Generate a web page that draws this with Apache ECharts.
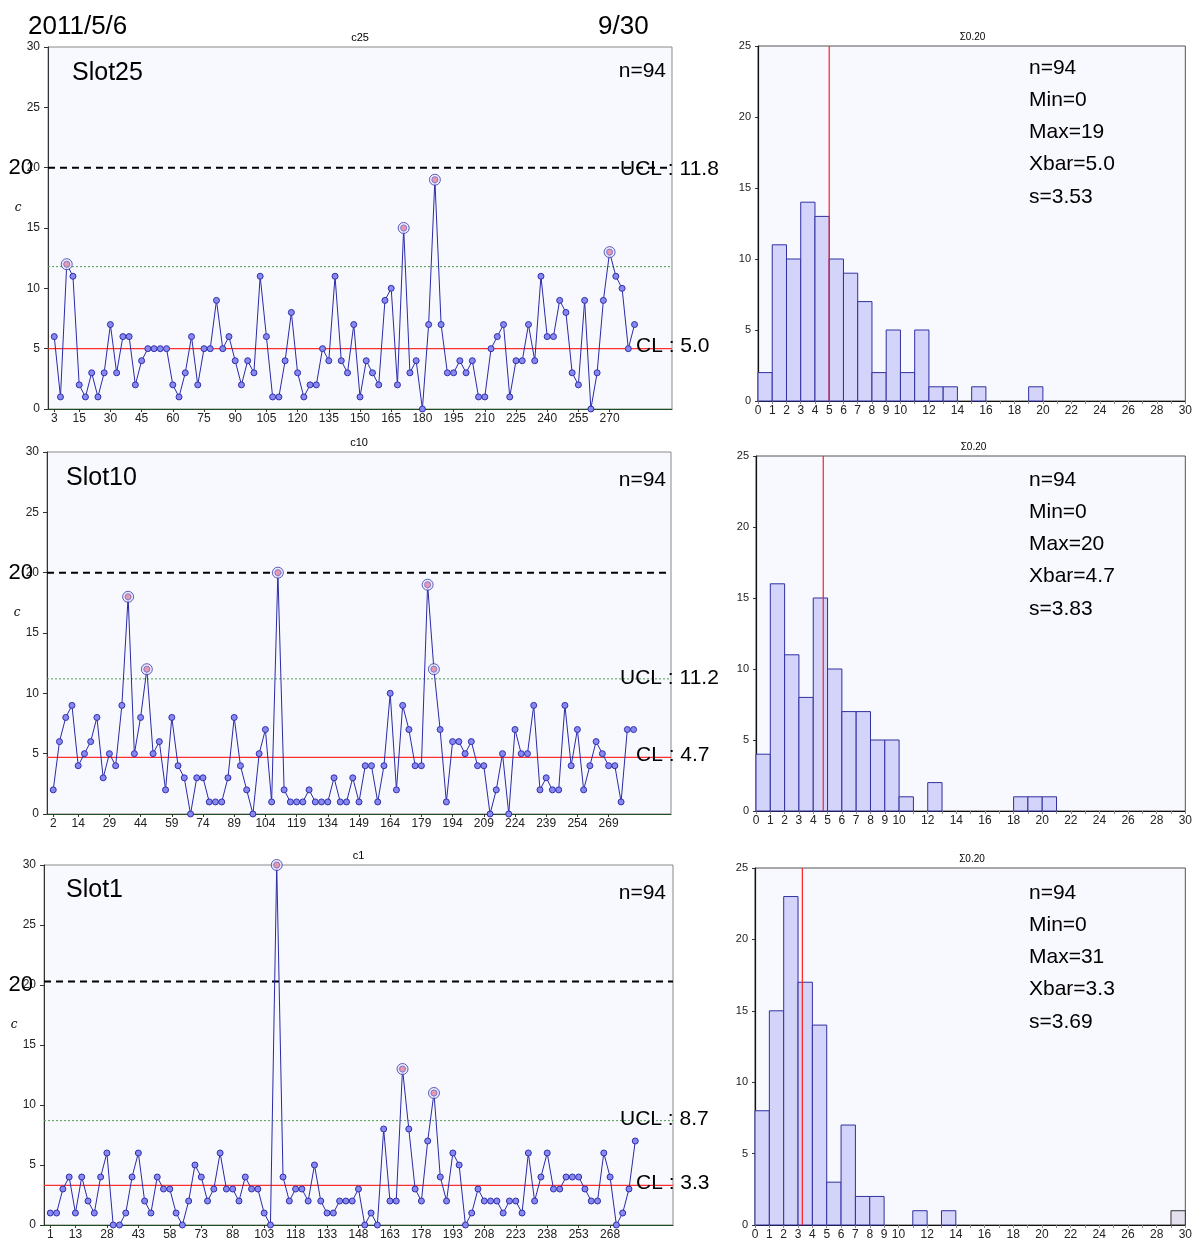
<!DOCTYPE html>
<html>
<head>
<meta charset="utf-8">
<script src="https://cdn.jsdelivr.net/npm/echarts@6/dist/echarts.min.js"></script>
<style>
html,body{margin:0;padding:0;background:#fff;}
#main{width:1195px;height:1241px;}
</style>
</head>
<body>
<div id="main"></div>
<script>
// ---------- data ----------
const dateLeft = '2011/5/6';
const dateRight = '9/30';
const slotNames = ['Slot25', 'Slot10', 'Slot1'];
const chartTitles = ['c25', 'c10', 'c1'];
const histTitles = ['Σ0.20', 'Σ0.20', 'Σ0.20'];
const firstX = [3, 2, 1];            // x value of the first sample
const xStep = 3;
const slot25 = [6,1,12,11,2,1,3,1,3,7, 3,6,6,2,4,5,5,5,5,2, 1,3,6,2,5,5,9,5,6,4,
                2,4,3,11,6,1,1,4,8,3, 1,2,2,5,4,11,4,3,7,1, 4,3,2,9,10,2,15,3,4,0,
                7,19,7,3,3,4,3,4,1,1, 5,6,7,1,4,4,7,4,11,6, 6,9,8,3,2,9,0,3,9,13,
                11,10,5,7];
const slot10 = [2,6,8,9,4,5,6,8,3,5, 4,9,18,5,8,12,5,6,2,8, 4,3,0,3,3,1,1,1,3,8,
                4,2,0,5,7,1,20,2,1,1, 1,2,1,1,1,3,1,1,3,1, 4,4,1,4,10,2,9,7,4,4,
                19,12,7,1,6,6,5,6,4,4, 0,2,5,0,7,5,5,9,2,3, 2,2,9,4,7,2,4,6,5,4,
                4,1,7,7];
const slot1  = [1,1,3,4,1,4,2,1,4,6, 0,0,1,4,6,2,1,4,3,3, 1,0,2,5,4,2,3,6,3,3,
                2,4,3,3,1,0,30,4,2,3, 3,2,5,2,1,1,2,2,2,3, 0,1,0,8,2,2,13,8,3,2,
                7,11,4,2,6,5,0,1,3,2, 2,2,1,2,2,1,6,2,4,6, 3,3,4,4,4,3,2,2,6,4,
                0,1,3,7];
const seriesValues = [slot25, slot10, slot1];
const clValues  = [5.0, 4.7, 3.3];
const uclValues = [11.8, 11.2, 8.7];
const limitValues = [20, 20, 20.3];
const limitLabel = '20';
const sampleCount = [94, 94, 94];
const yTicksControl = {min: 0, max: 30, interval: 5};

// histogram bin counts (bins [k, k+1), k = 0..29)
const hist25 = [2,11,10,14,13,10,9,7,2,5,2,5,1,1,0,1,0,0,0,1,0,0,0,0,0,0,0,0,0,0];
const hist10 = [4,16,11,8,15,10,7,7,5,5,1,0,2,0,0,0,0,0,1,1,1,0,0,0,0,0,0,0,0,0];
const hist1  = [8,15,23,17,14,3,7,2,2,0,0,1,0,1,0,0,0,0,0,0,0,0,0,0,0,0,0,0,0,0];
const histOverflowBin = 29;
const histOverflow = [0, 0, 1];
const histValues = [hist25, hist10, hist1];
const histMin = [0, 0, 0];
const histMax = [19, 20, 31];
const histXbar = [5.0, 4.7, 3.3];
const histS = [3.53, 3.83, 3.69];
const yTicksHist = {min: 0, max: 25, interval: 5};
const xTicksHist = {min: 0, max: 30, interval: 1};

// ---------- layout ----------
const FONT = '"Liberation Sans", Arial, sans-serif';
const ctrlGrids = [
  {left: 48, top: 47, width: 624, height: 362},
  {left: 47, top: 452, width: 624, height: 362},
  {left: 44, top: 865, width: 629, height: 365}
];
const histGrids = [
  {left: 758, top: 46, width: 429, height: 355},
  {left: 756, top: 456, width: 435, height: 355},
  {left: 755, top: 868, width: 434, height: 359}
];

const grids = [], xAxes = [], yAxes = [], series = [];

function hLine(k, cats, value, color, width, type, z) {
  return {
    type: 'line', xAxisIndex: k, yAxisIndex: k,
    data: [[cats[0], value], [cats[cats.length - 1], value]],
    symbol: 'none', silent: true, animation: false, z: z,
    lineStyle: {color: color, width: width, type: type}
  };
}

ctrlGrids.forEach((g, k) => {
  grids.push(Object.assign({show: true, backgroundColor: '#f8f8ff', borderColor: '#8a8a8a', borderWidth: 1, containLabel: false}, g));
  const cats = [];
  for (let i = 0; i <= 100; i++) cats.push(String(firstX[k] - xStep + xStep * i));
  const n = seriesValues[k].length;
  const showIdx = (index) => index === 1 || (index > 0 && index % 5 === 0 && index <= n);
  xAxes.push({
    type: 'category', gridIndex: k, data: cats, boundaryGap: false,
    axisLine: {lineStyle: {color: '#1f4f1f', width: 1.2}},
    axisTick: {interval: (i) => showIdx(i), length: 3, lineStyle: {color: '#333'}},
    axisLabel: {interval: (i) => showIdx(i), fontSize: 12, color: '#222', fontFamily: FONT, margin: 4},
    splitLine: {show: false}
  });
  yAxes.push({
    type: 'value', gridIndex: k, min: yTicksControl.min, max: yTicksControl.max, interval: yTicksControl.interval,
    axisLine: {show: true, lineStyle: {color: '#333'}},
    axisTick: {show: true, length: 4, lineStyle: {color: '#333'}},
    axisLabel: {fontSize: 12, color: '#222', fontFamily: FONT, margin: 8},
    splitLine: {show: false}
  });
  series.push(hLine(k, cats, clValues[k], '#ff3030', 1.2, 'solid', 2));
  series.push(hLine(k, cats, uclValues[k], '#4f9f4f', 1, [2, 2], 2));
  series.push(hLine(k, cats, limitValues[k], '#000000', 2, [7, 5], 2));
  const vals = seriesValues[k];
  const data = vals.map((v, i) => [cats[i + 1], v]);
  series.push({
    type: 'line', xAxisIndex: k, yAxisIndex: k, data: data,
    symbol: 'circle', symbolSize: 6, showSymbol: true, showAllSymbol: true, animation: false, silent: true,
    lineStyle: {color: '#2a2aa6', width: 1},
    itemStyle: {color: '#8888f2', borderColor: '#3030a8', borderWidth: 1},
    z: 5
  });
  const out = data.filter(d => d[1] > uclValues[k]);
  series.push({
    type: 'scatter', xAxisIndex: k, yAxisIndex: k, data: out, symbol: 'circle', symbolSize: 11,
    silent: true, animation: false, z: 6,
    itemStyle: {color: '#e6e6ff', borderColor: '#3a3aa6', borderWidth: 1}
  });
  series.push({
    type: 'scatter', xAxisIndex: k, yAxisIndex: k, data: out, symbol: 'circle', symbolSize: 6,
    silent: true, animation: false, z: 7,
    itemStyle: {color: '#f08a9a', borderColor: '#7070d0', borderWidth: 1}
  });
});

histGrids.forEach((g, j) => {
  const gi = 3 + j;
  grids.push(Object.assign({show: true, backgroundColor: '#f8f8ff', borderColor: '#555', borderWidth: 1, containLabel: false}, g));
  xAxes.push({
    type: 'value', gridIndex: gi, min: xTicksHist.min, max: xTicksHist.max, interval: xTicksHist.interval,
    axisLine: {show: true, onZero: false, lineStyle: {color: '#111', width: 1.2}},
    axisTick: {show: true, length: 3, lineStyle: {color: '#888'}},
    axisLabel: {fontSize: 12, color: '#222', fontFamily: FONT, margin: 4, showMaxLabel: true, showMinLabel: true,
      formatter: (v) => (v <= 10 || v % 2 === 0) ? String(v) : ''},
    splitLine: {show: false}
  });
  yAxes.push({
    type: 'value', gridIndex: gi, min: yTicksHist.min, max: yTicksHist.max, interval: yTicksHist.interval,
    axisLine: {show: true, lineStyle: {color: '#111', width: 1.2}},
    axisTick: {show: true, length: 3, lineStyle: {color: '#333'}},
    axisLabel: {fontSize: 11, color: '#222', fontFamily: FONT, margin: 7},
    splitLine: {show: false}
  });
  const bars = histValues[j].map((c, b) => [b, c, 0]).filter(d => d[1] > 0);
  if (histOverflow[j] > 0) bars.push([histOverflowBin, histOverflow[j], 1]);
  series.push({
    type: 'custom', xAxisIndex: gi, yAxisIndex: gi, data: bars, silent: true, animation: false,
    encode: {x: 0, y: 1}, z: 3,
    renderItem: function (params, api) {
      const x0 = api.value(0), c = api.value(1), ov = api.value(2);
      const p0 = api.coord([x0, 0]);
      const p1 = api.coord([x0 + 1, c]);
      return {
        type: 'rect',
        shape: {x: p0[0], y: p1[1], width: p1[0] - p0[0], height: p0[1] - p1[1]},
        style: ov ? {fill: '#e4e0ee', stroke: '#333', lineWidth: 1}
                  : {fill: '#d4d4fa', stroke: '#3030a0', lineWidth: 1, opacity: 1}
      };
    }
  });
  series.push({
    type: 'line', xAxisIndex: gi, yAxisIndex: gi, data: [[histXbar[j], yTicksHist.min], [histXbar[j], yTicksHist.max]],
    symbol: 'none', silent: true, animation: false, z: 4,
    lineStyle: {color: '#ff2020', width: 1.2}
  });
});

const chart = echarts.init(document.getElementById('main'), null, {renderer: 'canvas'});
chart.setOption({
  backgroundColor: '#ffffff',
  animation: false,
  grid: grids, xAxis: xAxes, yAxis: yAxes, series: series
});

// ---------- texts ----------
function txt(x, y, text, size, align, extra) {
  return {
    type: 'text', x: x, y: y, silent: true, z: 100,
    style: Object.assign({text: text, fontSize: size, fontFamily: FONT, fill: '#000',
      align: align || 'left', verticalAlign: 'middle'}, extra || {})
  };
}
const graphics = [];
graphics.push(txt(28, 27, dateLeft, 26, 'left'));
graphics.push(txt(598, 27, dateRight, 26, 'left'));

const slotTextY = [73, 478, 890];
const slotTextX = [72, 66, 66];
const nTextY = [71, 480, 893];
ctrlGrids.forEach((g, k) => {
  const py = (v) => chart.convertToPixel({yAxisIndex: k}, v);
  graphics.push(txt(g.left + g.width / 2, g.top - 9, chartTitles[k], 11, 'center'));
  graphics.push(txt(slotTextX[k], slotTextY[k], slotNames[k], 25, 'left'));
  graphics.push(txt(666, nTextY[k], 'n=' + sampleCount[k], 21, 'right'));
  graphics.push(txt(g.left - 30, py(16.7), 'c', 12, 'center', {fontFamily: '"DejaVu Serif", "Liberation Serif", serif', fontStyle: 'italic'}));
  graphics.push(txt(33, py(20), limitLabel, 22, 'right'));
  const uclY = k === 0 ? py(limitValues[k]) + 2 : py(uclValues[k]) - 1;
  graphics.push(txt(620, uclY, 'UCL : ' + uclValues[k].toFixed(1), 21, 'left'));
  graphics.push(txt(636, py(clValues[k]) - 2, 'CL : ' + clValues[k].toFixed(1), 21, 'left'));
});

const statTop = [68, 480, 893];
histGrids.forEach((g, j) => {
  graphics.push(txt(g.left + g.width / 2, g.top - 9, histTitles[j], 10, 'center'));
  const lines = ['n=' + sampleCount[j], 'Min=' + histMin[j], 'Max=' + histMax[j],
                 'Xbar=' + histXbar[j].toFixed(1), 's=' + histS[j].toFixed(2)];
  lines.forEach((t, i) => graphics.push(txt(1029, statTop[j] + i * 32.2, t, 21, 'left')));
});

chart.setOption({graphic: graphics});
</script>
</body>
</html>
